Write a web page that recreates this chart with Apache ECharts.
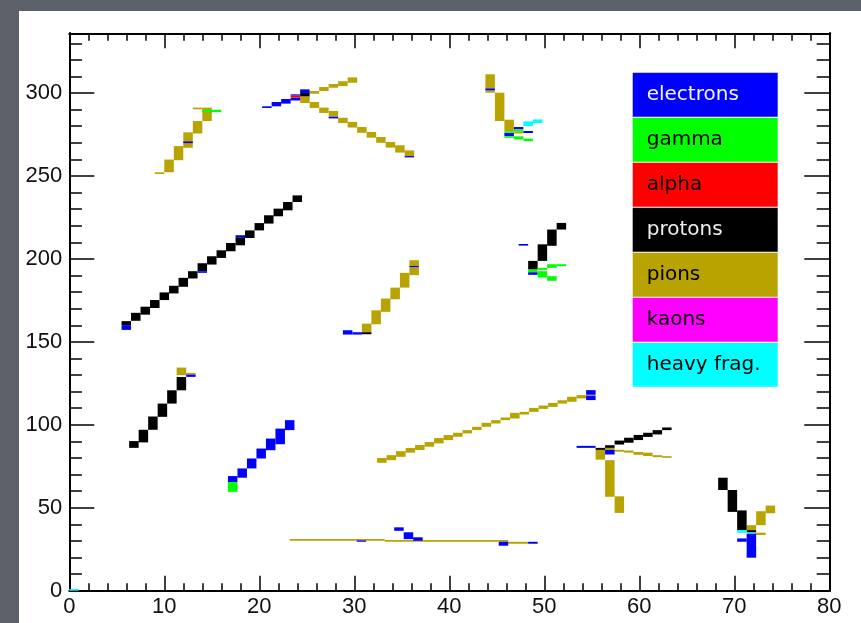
<!DOCTYPE html>
<html>
<head>
<meta charset="utf-8">
<script src="https://cdn.jsdelivr.net/npm/echarts@6/dist/echarts.min.js"></script>
<style>
  html, body { margin: 0; padding: 0; width: 861px; height: 623px; background: #5b6069; overflow: hidden; }
  #chart { position: absolute; left: 19px; top: 11px; width: 842px; height: 612px; background: #ffffff; }
</style>
</head>
<body>
<div id="chart"></div>
<script>
// Particle species, legend colours and legend text colours
const particleNames = ['electrons', 'gamma', 'alpha', 'protons', 'pions', 'kaons', 'heavy frag.'];
const particleColors = ['#0000ff', '#00ff00', '#ff0000', '#000000', '#b8a300', '#ff00ff', '#00ffff'];
const particleTextColors = ['#f4f4ff', '#000000', '#000000', '#eeeeee', '#000000', '#000000', '#000000'];

// Hit cells: [x from, x to, y from, y to]
const electrons = [
  [12, 13, 269.8, 270.8],
  [20.3, 21.3, 291, 292], [21.3, 22.3, 292, 294.6], [22.3, 23.3, 293.6, 296.4],
  [23.3, 24.3, 295.5, 297.2], [23.3, 24.3, 298.4, 299.2], [24.3, 25.3, 300, 302.2],
  [27.3, 28.3, 284.7, 285.7], [35.3, 36.3, 261.2, 262],
  [43.8, 44.8, 301.6, 302.8], [45.8, 46.8, 274, 276], [46.8, 47.8, 278.1, 279.5], [47.8, 48.8, 275.9, 277.1],
  [5.5, 6.5, 157.2, 160.1], [13.5, 14.5, 191.6, 192.6], [17.5, 18.5, 213.1, 214.3],
  [28.8, 29.8, 154.4, 157], [29.8, 30.8, 154.4, 155.8], [35.8, 36.8, 195, 195.8],
  [47.3, 48.3, 208, 209], [48.3, 49.3, 190.4, 192],
  [12.3, 13.3, 128.9, 130.3],
  [16.7, 17.7, 65.5, 69.1], [17.7, 18.7, 68.1, 73.7], [18.7, 19.7, 73.7, 79.7], [19.7, 20.7, 79.7, 85.7],
  [20.7, 21.7, 84.7, 91.7], [21.7, 22.7, 88.3, 97.7], [22.7, 23.7, 96.8, 102.8],
  [54.4, 55.4, 114.9, 117.5], [54.4, 55.4, 118.1, 120.9],
  [53.4, 55.4, 86.1, 87.3], [56.4, 57.4, 82.1, 84.9],
  [70.3, 71.3, 29.5, 31.5], [71.3, 72.3, 19.9, 34.5],
  [30.25, 31.25, 29.5, 30.3], [34.2, 35.2, 36.1, 38.2], [35.2, 36.2, 31.1, 35.2], [36.2, 37.2, 30.1, 32.2],
  [45.2, 46.2, 27.1, 29.5], [48.3, 49.3, 28.3, 29.5]
];
const gamma = [
  [14, 16, 288.5, 289.9],
  [45.8, 46.8, 276, 277], [45.8, 46.8, 273, 274], [46.8, 47.8, 276.9, 278.1], [46.8, 47.8, 272, 273.9],
  [47.8, 48.8, 271, 272.5],
  [48.3, 49.3, 192, 193.6], [49.3, 50.3, 193.4, 194.6], [49.3, 50.3, 188.8, 192.6],
  [50.3, 51.3, 194.6, 196.8], [50.3, 51.3, 186.8, 189.6], [51.3, 52.3, 195.6, 196.8],
  [16.7, 17.7, 59.6, 65.5]
];
const alpha = [
  [23.3, 24.3, 297.2, 298.4]
];
const protons = [
  [24.3, 25.3, 298, 300],
  [5.5, 6.5, 160.1, 162.5], [6.5, 7.5, 162.7, 167.5], [7.5, 8.5, 166.4, 171.2], [8.5, 9.5, 170.4, 175.2],
  [9.5, 10.5, 175.2, 179.8], [10.5, 11.5, 179.2, 183.8], [11.5, 12.5, 183.2, 188.6], [12.5, 13.5, 188.2, 192.6],
  [13.5, 14.5, 192.6, 197.4], [14.5, 15.5, 196.6, 201.6], [15.5, 16.5, 200.6, 205.2], [16.5, 17.5, 204.6, 209.6],
  [17.5, 18.5, 208.2, 213.1], [18.5, 19.5, 212.6, 217.2], [19.5, 20.5, 217.2, 221.6], [20.5, 21.5, 221.3, 226.3],
  [21.5, 22.5, 225.7, 230.3], [22.5, 23.5, 229.3, 234.3], [23.5, 24.5, 234.3, 238.3],
  [30.8, 31.8, 154.6, 155.8],
  [48.3, 49.3, 193.6, 198.8], [49.3, 50.3, 198.8, 208.8], [50.3, 51.3, 207.9, 217.7], [51.3, 52.3, 217.7, 221.7],
  [6.3, 7.3, 86.1, 90.2], [7.3, 8.3, 89.4, 97], [8.3, 9.3, 97, 105], [9.3, 10.3, 104.8, 112.8],
  [10.3, 11.3, 112.8, 120.8], [11.3, 12.3, 120.8, 128.8],
  [55.4, 56.4, 84.9, 86.1], [56.4, 57.4, 86.1, 87.7], [57.4, 58.4, 88.1, 90.5], [58.4, 59.4, 89.2, 92.2],
  [59.4, 60.4, 90.8, 93.9], [60.4, 61.4, 92.7, 95.2], [61.4, 62.4, 94.2, 96.8], [62.4, 63.4, 96.8, 98.4],
  [68.3, 69.3, 60.7, 68.1], [69.3, 70.3, 47.5, 60.7], [70.3, 71.3, 36.5, 48.4], [71.3, 72.3, 35.1, 36.5]
];
const pions = [
  [9, 10, 251.2, 252.2], [10, 11, 252.2, 259.9], [11, 12, 259.5, 268], [12, 13, 267, 276.3],
  [13, 14, 275.6, 283.1], [13, 14, 290.2, 291.2], [14, 15, 283.1, 291.2],
  [24.3, 25.3, 294, 298],
  [25.3, 26.3, 299.6, 301.2], [26.3, 27.3, 301.2, 303.6], [27.3, 28.3, 303.2, 305.4],
  [28.3, 29.3, 304.2, 307.1], [29.3, 30.3, 306.2, 309.4],
  [25.3, 26.3, 291, 294.6], [26.3, 27.3, 288, 291.2], [27.3, 28.3, 285.7, 289.2], [28.3, 29.3, 281.9, 285.1],
  [29.3, 30.3, 279.2, 282.6], [30.3, 31.3, 276, 279.5], [31.3, 32.3, 273.1, 276.5], [32.3, 33.3, 270, 273.5],
  [33.3, 34.3, 267.1, 270.5], [34.3, 35.3, 264.1, 268.5], [35.3, 36.3, 262, 265.4],
  [43.8, 44.8, 302.8, 311.3], [43.8, 44.8, 300.2, 301.6], [44.8, 45.8, 283.1, 300.2],
  [45.8, 46.8, 277, 283.9], [46.8, 47.8, 275.6, 276.9],
  [30.8, 31.8, 155.8, 161], [31.8, 32.8, 160.6, 169], [32.8, 33.8, 168.1, 176.1], [33.8, 34.8, 175.7, 182.7],
  [34.8, 35.8, 182.7, 191.6], [35.8, 36.8, 190.2, 195], [35.8, 36.8, 195.8, 199.2],
  [11.3, 12.3, 129.9, 134.5], [12.3, 13.3, 130.3, 131.3],
  [32.4, 33.4, 77.1, 80.0], [33.4, 34.4, 78.7, 81.7], [34.4, 35.4, 80.7, 84.1], [35.4, 36.4, 83.2, 86.0],
  [36.4, 37.4, 84.8, 87.8], [37.4, 38.4, 86.8, 89.6], [38.4, 39.4, 88.8, 92.0], [39.4, 40.4, 90.8, 93.8],
  [40.4, 41.4, 92.8, 95.2], [41.4, 42.4, 94.8, 96.8], [42.4, 43.4, 96.8, 98.8], [43.4, 44.4, 98.8, 101.2],
  [44.4, 45.4, 100.8, 102.8], [45.4, 46.4, 102.8, 104.4], [46.4, 47.4, 103.8, 107.2], [47.4, 48.4, 106.2, 107.8],
  [48.4, 49.4, 107.8, 110.2], [49.4, 50.4, 109.6, 111.6], [50.4, 51.4, 110.8, 113.2], [51.4, 52.4, 112.8, 114.8],
  [52.4, 53.4, 113.9, 116.9], [53.4, 54.4, 115.9, 117.9], [54.4, 55.4, 117.5, 118.1],
  [55.4, 56.4, 79, 84.9], [56.4, 57.4, 84.9, 86.1], [56.4, 57.4, 56.6, 78.7], [57.4, 58.4, 46.9, 56.9],
  [57.4, 58.4, 83.8, 84.9], [58.4, 59.4, 83.2, 84.5], [59.4, 60.4, 81.9, 83.6], [60.4, 61.4, 81.2, 83.2],
  [61.4, 62.4, 80.5, 81.7], [62.4, 63.4, 80.1, 81.1],
  [71.3, 72.3, 36.5, 39.5], [72.3, 73.3, 33.6, 35.0], [72.3, 73.3, 39.5, 47.9], [73.3, 74.3, 46.7, 51.3],
  [23.2, 33.2, 30.1, 31.1], [33.2, 46.2, 29.5, 30.5], [46.2, 48.3, 28.3, 29.5]
];
const kaons = [];
const heavyFrag = [
  [47.8, 48.8, 280.1, 282.9], [48.8, 49.8, 281.9, 284.1],
  [70.3, 71.3, 34.9, 36.5], [71.3, 72.3, 34.5, 35.1],
  [0, 1, 0, 1]
];
const particleData = [electrons, gamma, alpha, protons, pions, kaons, heavyFrag];

// Axis ranges and tick steps
const xRange = [0, 80];
const yRange = [0, 336];
const xMajorStep = 10;
const yMajorStep = 50;
const yMinorStep = 10;

// pions underneath, protons next, the thin hits on top
const drawLayer = { 'pions': 1, 'protons': 2 };

function renderCell(params, api) {
  const a = api.coord([api.value(0), api.value(3)]);
  const b = api.coord([api.value(1), api.value(2)]);
  return {
    type: 'rect',
    shape: { x: a[0], y: a[1], width: b[0] - a[0], height: b[1] - a[1] },
    style: { fill: api.visual('color') }
  };
}

const series = particleNames.map((name, i) => ({
  name: name,
  type: 'custom',
  renderItem: renderCell,
  data: particleData[i],
  itemStyle: { color: particleColors[i] },
  encode: { x: [0, 1], y: [2, 3] },
  z: 2 + (drawLayer[name] !== undefined ? drawLayer[name] : 3),
  silent: true,
  animation: false
}));

const labelFont = { fontFamily: 'Liberation Sans, Arial, sans-serif', fontSize: 22, color: '#111111' };
const frameLine = { show: true, onZero: false, lineStyle: { color: '#000000', width: 2 } };

function xAxisDef(pos, withLabels) {
  return {
    type: 'value', position: pos, min: xRange[0], max: xRange[1], interval: xMajorStep,
    axisLine: frameLine,
    axisTick: { show: true, inside: true, length: 15, lineStyle: { color: '#000', width: 1.5 } },
    minorTick: { show: true, splitNumber: 5, length: 7.5, lineStyle: { color: '#000', width: 1.5 } },
    axisLabel: withLabels ? Object.assign({ show: true, margin: 5 }, labelFont) : { show: false },
    splitLine: { show: false }
  };
}

function yAxisDef(pos, step, tickLen, withLabels) {
  return {
    type: 'value', position: pos, min: yRange[0], max: yRange[1], interval: step,
    axisLine: frameLine,
    axisTick: { show: true, inside: true, length: tickLen, lineStyle: { color: '#000', width: 1.5 } },
    axisLabel: withLabels ? Object.assign({
      show: true, margin: 7,
      formatter: v => (v % yMajorStep === 0 ? String(v) : '')
    }, labelFont) : { show: false },
    splitLine: { show: false }
  };
}

// Legend panel drawn as coloured boxes with the species names
const legendLeft = 613.7, legendTop = 61.7, legendWidth = 145, legendRowH = 44, legendGap = 1;
const legendItems = [];
particleNames.forEach((name, i) => {
  const top = legendTop + i * (legendRowH + legendGap);
  legendItems.push({
    type: 'rect', left: legendLeft, top: top, z: 10,
    shape: { width: legendWidth, height: legendRowH },
    style: { fill: particleColors[i] }
  });
  legendItems.push({
    type: 'text', x: legendLeft + 14, y: top + legendRowH / 2, z: 11,
    style: {
      text: name, fill: particleTextColors[i], fontSize: 20,
      fontFamily: 'DejaVu Sans, sans-serif', verticalAlign: 'middle', align: 'left'
    }
  });
});

const chart = echarts.init(document.getElementById('chart'), null, { renderer: 'canvas' });
chart.setOption({
  animation: false,
  backgroundColor: '#ffffff',
  grid: { left: 50.3, right: 31.7, top: 22.3, bottom: 32.3, containLabel: false },
  xAxis: [xAxisDef('bottom', true), xAxisDef('top', false)],
  yAxis: [
    yAxisDef('left', yMajorStep, 25, true),
    yAxisDef('left', yMinorStep, 12.6, false),
    yAxisDef('right', yMajorStep, 25, false),
    yAxisDef('right', yMinorStep, 12.6, false)
  ],
  series: series,
  graphic: legendItems
});
</script>
</body>
</html>
